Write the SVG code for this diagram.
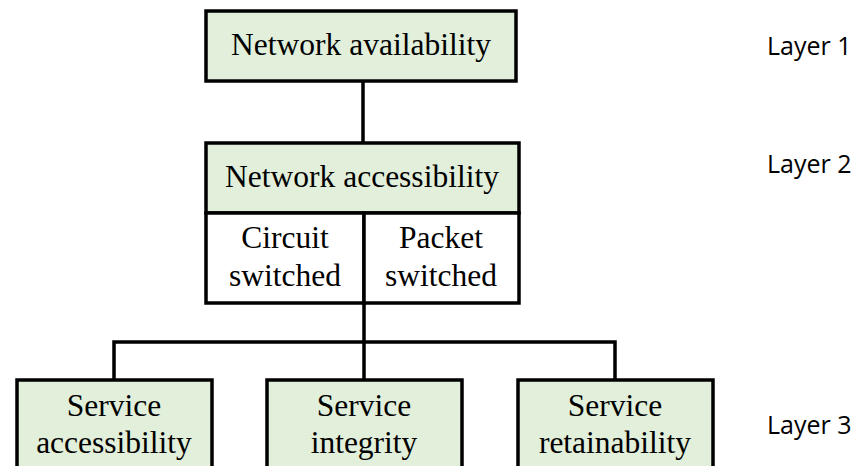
<svg xmlns="http://www.w3.org/2000/svg" width="862" height="466" viewBox="0 0 862 466">
<style>
.box{fill:#e2efda;stroke:#000;stroke-width:3.5}
.wbox{fill:#fff;stroke:#000;stroke-width:3.5}
.t{font-family:"Liberation Serif","Times New Roman",serif;font-size:31.5px;fill:#000;text-anchor:middle}
.lay{font-family:"Open Sans","Liberation Sans",sans-serif;font-size:25px;fill:#000}
.c{fill:none;stroke:#000;stroke-width:3.5}
</style>
<rect width="862" height="466" fill="#fff"/>
<g id="connectors">
<line class="c" x1="363" y1="81" x2="363" y2="143"/>
<line class="c" x1="364" y1="303" x2="364" y2="380"/>
<polyline class="c" points="114,380 114,342 615,342 615,380"/>
</g>
<g id="network-availability">
<rect class="box" x="206" y="11" width="310" height="70"/>
<text class="t" x="361" y="55">Network availability</text>
</g>
<g id="network-accessibility">
<rect class="box" x="206" y="143" width="313" height="70"/>
<text class="t" x="362" y="187">Network accessibility</text>
</g>
<g id="circuit-switched">
<rect class="wbox" x="206" y="213" width="158" height="90"/>
<text class="t" x="285" y="248">Circuit</text>
<text class="t" x="285" y="286">switched</text>
</g>
<g id="packet-switched">
<rect class="wbox" x="364" y="213" width="155" height="90"/>
<text class="t" x="441" y="248">Packet</text>
<text class="t" x="441" y="286">switched</text>
</g>
<g id="service-accessibility">
<rect class="box" x="17" y="380" width="195" height="100"/>
<text class="t" x="114" y="416">Service</text>
<text class="t" x="114" y="453">accessibility</text>
</g>
<g id="service-integrity">
<rect class="box" x="267" y="380" width="195" height="100"/>
<text class="t" x="364" y="416">Service</text>
<text class="t" x="364" y="453">integrity</text>
</g>
<g id="service-retainability">
<rect class="box" x="518" y="380" width="195" height="100"/>
<text class="t" x="615" y="416">Service</text>
<text class="t" x="615" y="453">retainability</text>
</g>
<g id="layers">
<text class="lay" x="767" y="55">Layer 1</text>
<text class="lay" x="767" y="173">Layer 2</text>
<text class="lay" x="767" y="434">Layer 3</text>
</g>
</svg>
